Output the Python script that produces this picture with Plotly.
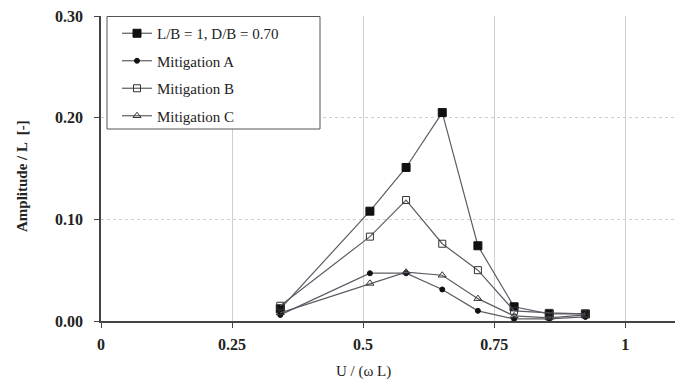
import plotly.graph_objects as go

x_vals = [0.342, 0.513, 0.582, 0.651, 0.719, 0.788, 0.855, 0.924]
base = [0.012, 0.108, 0.151, 0.205, 0.074, 0.014, 0.007, 0.007]
mit_a = [0.006, 0.047, 0.047, 0.031, 0.010, 0.002, 0.002, 0.004]
mit_b = [0.015, 0.083, 0.119, 0.076, 0.050, 0.010, 0.008, 0.007]
mit_c = [0.008, 0.037, 0.048, 0.045, 0.022, 0.005, 0.003, 0.006]

names = ["L/B = 1, D/B = 0.70", "Mitigation A", "Mitigation B", "Mitigation C"]
x_ticks = [0, 0.25, 0.5, 0.75, 1]
x_tick_text = ["0", "0.25", "0.5", "0.75", "1"]
y_ticks = [0, 0.1, 0.2, 0.3]
y_tick_text = ["0.00", "0.10", "0.20", "0.30"]

FONT = "Liberation Serif"
LINE = "#5c5c66"

styles = [
    dict(symbol="square", size=8, color="#111111", line=dict(color="#111111", width=1)),
    dict(symbol="circle", size=5, color="#111111", line=dict(color="#111111", width=1)),
    dict(symbol="square-open", size=7, color="#333333", line=dict(color="#333333", width=1)),
    dict(symbol="triangle-up-open", size=7, color="#333333", line=dict(color="#333333", width=1)),
]

fig = go.Figure()
for i, (nm, ys) in enumerate(zip(names, [base, mit_a, mit_b, mit_c])):
    fig.add_trace(go.Scatter(
        x=x_vals, y=ys, name=nm, mode="lines+markers",
        line=dict(color=LINE, width=1.2),
        marker=styles[i],
        legendgroup="g%d" % i,
    ))

L, R, T, B = 101, 0, 16, 69
pw, ph = 675 - L - R, 390 - T - B


def px_x(p):
    return (p - L) / pw


def px_y(p):
    return 1 - (p - T) / ph


fig.update_layout(
    width=675, height=390,
    margin=dict(l=L, r=R, t=T, b=B),
    paper_bgcolor="white", plot_bgcolor="white",
    font=dict(family=FONT, size=14, color="#222222"),
    showlegend=True,
    legend=dict(
        x=px_x(117), y=px_y(17), xanchor="left", yanchor="top",
        bgcolor="rgba(0,0,0,0)", borderwidth=0,
        font=dict(family=FONT, size=15, color="#222222"),
        traceorder="grouped", tracegroupgap=5,
        itemwidth=30,
    ),
    shapes=[
        dict(type="rect", xref="paper", yref="paper",
             x0=px_x(107), x1=px_x(320), y0=px_y(16.5), y1=px_y(129),
             fillcolor="white", line=dict(color="#555555", width=1), layer="above"),
    ],
    xaxis=dict(
        range=[0, 1.095], tickvals=x_ticks, ticktext=x_tick_text,
        showgrid=True, gridcolor="#cfcfcf", gridwidth=1,
        showline=True, linecolor="#444444", linewidth=1.5,
        ticks="outside", ticklen=5, tickcolor="#444444",
        tickfont=dict(family=FONT, size=16, color="#222222", weight="bold"),
        zeroline=False, ticklabelstandoff=3,
    ),
    yaxis=dict(
        range=[0, 0.30], tickvals=y_ticks, ticktext=y_tick_text,
        showgrid=True, gridcolor="#cfcfcf", gridwidth=1, griddash="dot",
        showline=True, linecolor="#444444", linewidth=1.5,
        ticks="outside", ticklen=5, tickcolor="#444444",
        tickfont=dict(family=FONT, size=16, color="#222222", weight="bold"),
        zeroline=False, ticklabelstandoff=8,
    ),
    annotations=[
        dict(text="U / (\u03c9 L)", x=px_x(363), y=px_y(371), xref="paper", yref="paper",
             xanchor="center", yanchor="middle",
             showarrow=False, font=dict(family=FONT, size=15, color="#222222")),
        dict(text="Amplitude / L  [-]", x=px_x(22), y=px_y(176), xref="paper", yref="paper",
             xanchor="center", yanchor="middle",
             showarrow=False, textangle=-90,
             font=dict(family=FONT, size=15, color="#222222", weight="bold")),
    ],
)

fig.write_html("out.html")
